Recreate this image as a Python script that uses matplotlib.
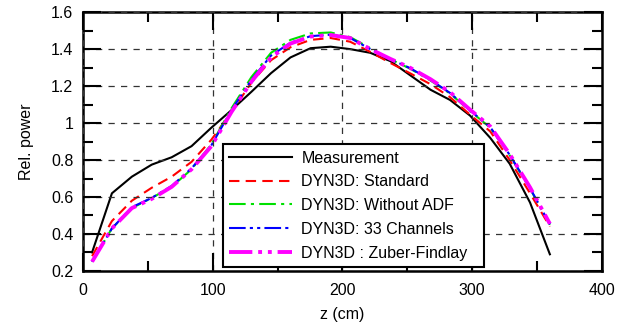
import matplotlib
matplotlib.use('Agg')
import matplotlib.pyplot as plt
from matplotlib.ticker import MultipleLocator, FormatStrFormatter, FuncFormatter

plt.rcParams['font.family'] = ['Liberation Sans', 'DejaVu Sans']

# axial positions (cm)
z = [7, 22.3, 37.7, 53, 68.4, 83.7, 99, 114.5, 130, 145, 160, 175.5,
     191, 206, 221.5, 237, 252, 268, 283, 298.5, 314, 329, 344.7, 360]

measurement = [0.30, 0.62, 0.71, 0.775, 0.815, 0.875, 0.975, 1.07, 1.17, 1.27, 1.355, 1.405,
               1.413, 1.40, 1.38, 1.335, 1.26, 1.18, 1.125, 1.04, 0.92, 0.78, 0.57, 0.29]
standard = [0.28, 0.47, 0.58, 0.65, 0.71, 0.79, 0.91, 1.06, 1.22, 1.34, 1.41, 1.45,
            1.46, 1.44, 1.385, 1.325, 1.27, 1.21, 1.14, 1.045, 0.955, 0.80, 0.62, 0.44]
without_adf = [0.25, 0.43, 0.54, 0.595, 0.655, 0.75, 0.885, 1.08, 1.25, 1.38, 1.45, 1.485,
               1.49, 1.465, 1.405, 1.345, 1.295, 1.23, 1.16, 1.065, 0.975, 0.825, 0.645, 0.45]
channels33 = [0.25, 0.43, 0.545, 0.595, 0.66, 0.755, 0.88, 1.07, 1.235, 1.365, 1.435, 1.47,
              1.478, 1.46, 1.40, 1.345, 1.298, 1.233, 1.163, 1.068, 0.978, 0.828, 0.648, 0.452]
zuber = [0.25, 0.43, 0.54, 0.59, 0.655, 0.75, 0.875, 1.06, 1.225, 1.355, 1.43, 1.468,
         1.476, 1.46, 1.40, 1.347, 1.30, 1.237, 1.167, 1.072, 0.982, 0.832, 0.652, 0.455]

labels = ['Measurement', 'DYN3D: Standard', 'DYN3D: Without ADF',
          'DYN3D: 33 Channels', 'DYN3D : Zuber-Findlay']

fig = plt.figure(figsize=(6.25, 3.28), dpi=100)
ax = fig.add_axes([0.1328, 0.174, 0.83, 0.789])

ax.plot(z, measurement, color='black', linewidth=1.5, label=labels[0])
ax.plot(z, standard, color='red', linewidth=1.5, dashes=(5, 3), label=labels[1])
ax.plot(z, without_adf, color='#00e000', linewidth=1.5, dashes=(8, 2.5, 1.5, 2.5), label=labels[2])
ax.plot(z, channels33, color='blue', linewidth=1.5, dashes=(8, 2, 1.5, 2, 1.5, 2), label=labels[3])
ax.plot(z, zuber, color='magenta', linewidth=2.8, dashes=(6, 1.5, 1, 1.5, 1, 1.5), label=labels[4])

ax.set_xlim(0, 400)
ax.set_ylim(0.2, 1.6)
ax.xaxis.set_major_locator(MultipleLocator(100))
ax.xaxis.set_minor_locator(MultipleLocator(50))
ax.yaxis.set_major_locator(MultipleLocator(0.2))
ax.yaxis.set_minor_locator(MultipleLocator(0.1))
ax.yaxis.set_major_formatter(FuncFormatter(lambda v, p: '%g' % round(v, 2)))
ax.xaxis.set_major_formatter(FormatStrFormatter('%g'))

ax.tick_params(which='both', direction='in', top=True, right=True, labelsize=11.5, width=1.5)
ax.tick_params(which='major', length=13, pad=7)
ax.tick_params(axis='x', which='major', pad=9)
ax.tick_params(which='minor', length=7)
for s in ax.spines.values():
    s.set_linewidth(1.8)

ax.grid(True, which='major', color='#333333', linestyle=(0, (5, 5)), linewidth=0.9)
ax.set_axisbelow(False)

ax.set_xlabel('z (cm)', fontsize=11.5, labelpad=6)
ax.set_ylabel('Rel. power', fontsize=11.5, labelpad=12)

leg = ax.legend(loc='lower left', bbox_to_anchor=(0.27, 0.015, 0.503, 0.49), mode='expand',
                fontsize=11.5, frameon=True, fancybox=False, framealpha=1,
                edgecolor='black', handlelength=3.9, handletextpad=0.6,
                labelspacing=0.55, borderpad=0.4, borderaxespad=0)
leg.get_frame().set_linewidth(1.5)
leg.set_zorder(5)

fig.savefig('out.png', dpi=100)
